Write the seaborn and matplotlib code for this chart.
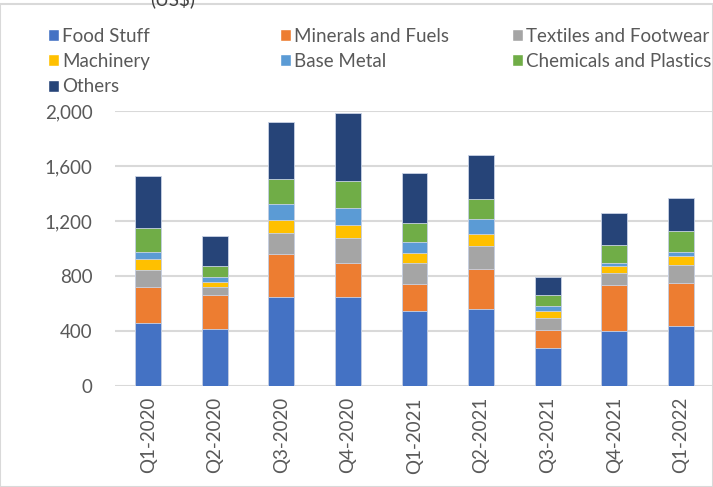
import numpy as np
import pandas as pd
import seaborn as sns
import matplotlib.pyplot as plt
from matplotlib.patches import Patch, Rectangle
from matplotlib.ticker import FuncFormatter

quarters = ["Q1-2020", "Q2-2020", "Q3-2020", "Q4-2020", "Q1-2021",
            "Q2-2021", "Q3-2021", "Q4-2021", "Q1-2022"]

food = [461, 417, 650, 650, 548, 557, 274, 402, 434]
minerals = [261, 247, 308, 247, 196, 291, 131, 330, 313]
textiles = [122, 58, 155, 182, 148, 172, 92, 92, 130]
machinery = [80, 37, 97, 92, 75, 88, 51, 51, 71]
base_metal = [53, 31, 111, 121, 78, 104, 32, 22, 24]
chemicals = [170, 83, 187, 199, 138, 148, 82, 126, 158]
others = [380, 218, 412, 497, 364, 317, 133, 233, 240]

series = ["Food Stuff", "Minerals and Fuels", "Textiles and Footwear",
          "Machinery", "Base Metal", "Chemicals and Plastics", "Others"]
colors = ["#4472C4", "#ED7D31", "#A5A5A5", "#FFC000", "#5B9BD5",
          "#70AD47", "#264478"]

df = pd.DataFrame(dict(zip(series, [food, minerals, textiles, machinery,
                                    base_metal, chemicals, others])),
                  index=quarters)
cum = df.cumsum(axis=1)

sns.set_style("white")
plt.rcParams['font.family'] = ['Lato', 'DejaVu Sans']
text_col = "#595959"
fs = 13.5

fig = plt.figure(figsize=(7.13, 4.87), dpi=100)
ax = fig.add_axes([115 / 713, 1 - 386 / 487, 599 / 713, 275 / 487])

# draw cumulative totals from top down so each layer covers the next
for name, col in reversed(list(zip(series, colors))):
    sns.barplot(x=quarters, y=cum[name].values, color=col, width=0.39,
                saturation=1, edgecolor="#c9d3e6", linewidth=0.6, ax=ax,
                zorder=3)

ax.set_ylim(0, 2000)
ax.set_xlim(-0.5, 8.5)
ax.set_yticks(np.arange(0, 2001, 400))
ax.yaxis.set_major_formatter(FuncFormatter(lambda v, p: f"{int(v):,}"))
ax.grid(axis="y", color="#d9d9d9", linewidth=1.5, zorder=0)
ax.set_axisbelow(True)
for s in ax.spines.values():
    s.set_visible(False)
ax.tick_params(axis="y", labelsize=fs, labelcolor=text_col, length=0, pad=16)
ax.tick_params(axis="x", labelsize=fs, labelcolor=text_col, length=0,
               rotation=90, pad=8)
ax.set_xlabel("")
ax.set_ylabel("")

# legend laid out row by row, one legend per column
handles = [Patch(facecolor=c, label=n) for n, c in zip(series, colors)]
col_x = [40, 272, 504]
for i, x in enumerate(col_x):
    leg = fig.legend(handles=handles[i::3], loc="upper left",
                     bbox_to_anchor=(x / 713, 1 - 20 / 487), frameon=False,
                     fontsize=fs, handlelength=0.6, handleheight=0.6,
                     handletextpad=0.2, labelspacing=0.45, borderaxespad=0)
    for t in leg.get_texts():
        t.set_color(text_col)

# chart border
fig.patches.append(Rectangle((0, 0), 1, 1 - 4 / 487, transform=fig.transFigure,
                             fill=False, edgecolor="#d9d9d9", linewidth=1.5))
# title sits mostly above the visible area, as in the source crop
fig.text(150 / 713, 1 - 8 / 487, "(US$)", fontsize=fs, color="#404040",
         va="bottom", ha="left")

fig.savefig("out.png", dpi=100)
